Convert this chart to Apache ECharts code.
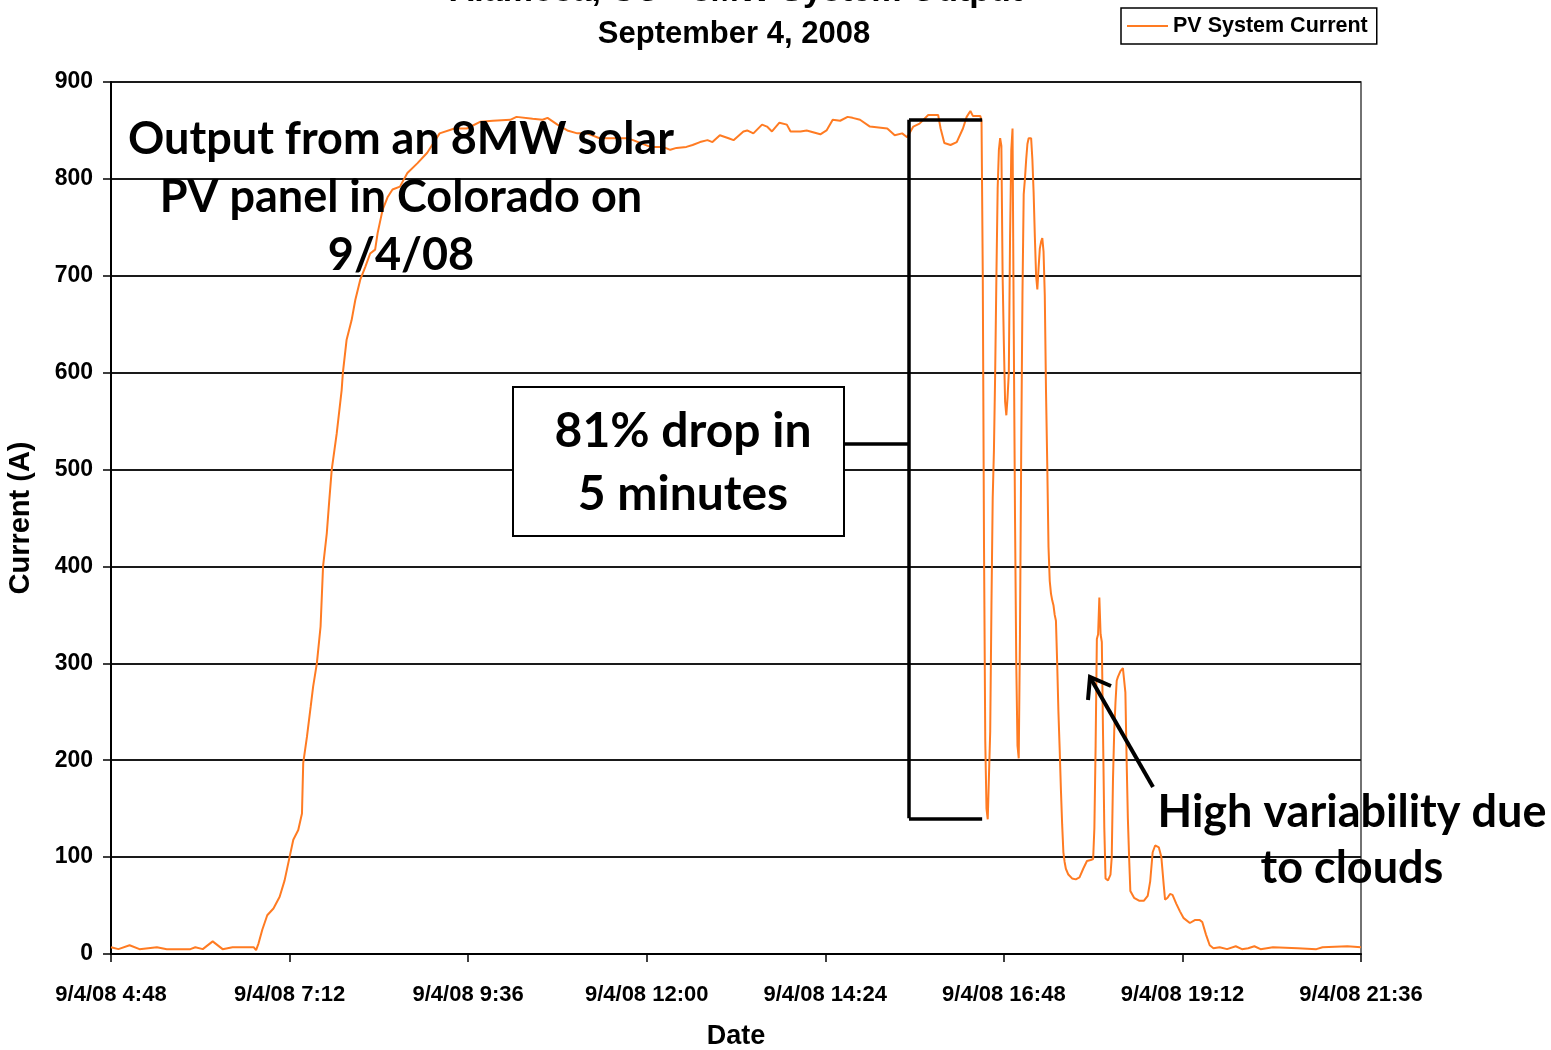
<!DOCTYPE html>
<html>
<head>
<meta charset="utf-8">
<title>Alamosa, CO - 8MW System Output</title>
<script src="https://cdn.jsdelivr.net/npm/echarts@6/dist/echarts.min.js"></script>
<style>
  html, body { margin: 0; padding: 0; background: #fff; }
  #chart { width: 1551px; height: 1050px; }
</style>
</head>
<body>
<div id="chart"></div>
<script>
// readings, time of day on 9/4/08 and current in A
const times = [
  "4:48", "4:54", "5:03", "5:11", "5:25", "5:33", "5:52", "5:56", "6:02", "6:10",
  "6:18", "6:26", "6:43", "6:45", "6:47", "6:50", "6:54", "6:59", "7:04", "7:08",
  "7:12", "7:15", "7:19", "7:22", "7:23", "7:26", "7:29", "7:31", "7:34", "7:37",
  "7:39", "7:42", "7:44", "7:46", "7:50", "7:54", "7:55", "7:58", "8:02", "8:05",
  "8:09", "8:13", "8:17", "8:21", "8:23", "8:27", "8:31", "8:35", "8:41", "8:47",
  "8:55", "9:03", "9:08", "9:13", "9:25", "9:35", "9:46", "9:56", "10:10", "10:15",
  "10:28", "10:36", "10:40", "10:48", "10:56", "11:04", "11:12", "11:22", "11:44", "11:49",
  "12:03", "12:13", "12:19", "12:24", "12:32", "12:37", "12:43", "12:49", "12:53", "12:59",
  "13:06", "13:10", "13:18", "13:21", "13:26", "13:33", "13:37", "13:41", "13:47", "13:53",
  "13:56", "14:04", "14:09", "14:20", "14:25", "14:30", "14:36", "14:42", "14:46", "14:52",
  "15:00", "15:14", "15:20", "15:26", "15:30", "15:35", "15:40", "15:47", "15:55", "15:57",
  "16:00", "16:05", "16:10", "16:15", "16:18", "16:21", "16:23", "16:29", "16:30", "16:31",
  "16:32", "16:33", "16:34", "16:35", "16:36", "16:37", "16:38", "16:39", "16:40", "16:41",
  "16:42", "16:43", "16:44", "16:45", "16:46", "16:47", "16:48", "16:49", "16:50", "16:51",
  "16:52", "16:53", "16:54", "16:55", "16:56", "16:57", "16:58", "16:59", "17:00", "17:01",
  "17:02", "17:03", "17:04", "17:05", "17:06", "17:07", "17:08", "17:09", "17:10", "17:11",
  "17:12", "17:13", "17:14", "17:15", "17:16", "17:17", "17:18", "17:19", "17:20", "17:21",
  "17:22", "17:23", "17:24", "17:25", "17:26", "17:27", "17:28", "17:29", "17:30", "17:31",
  "17:32", "17:33", "17:34", "17:35", "17:36", "17:37", "17:38", "17:40", "17:43", "17:46",
  "17:49", "17:52", "17:55", "17:58", "17:59", "18:00", "18:01", "18:02", "18:03", "18:04",
  "18:05", "18:06", "18:07", "18:08", "18:09", "18:10", "18:11", "18:12", "18:13", "18:14",
  "18:15", "18:16", "18:17", "18:18", "18:19", "18:20", "18:22", "18:24", "18:25", "18:26",
  "18:27", "18:28", "18:29", "18:30", "18:33", "18:37", "18:41", "18:44", "18:46", "18:48",
  "18:50", "18:53", "18:55", "18:57", "18:58", "19:00", "19:02", "19:04", "19:07", "19:10",
  "19:13", "19:18", "19:22", "19:26", "19:28", "19:31", "19:34", "19:37", "19:42", "19:48",
  "19:55", "20:00", "20:05", "20:10", "20:15", "20:25", "20:45", "21:00", "21:05", "21:25",
  "21:36"
];
const current = [
  7, 5, 9, 5, 7, 5, 5, 7, 5, 13,
  5, 7, 7, 4, 11, 25, 40, 47, 59, 76,
  100, 118, 128, 145, 197, 224, 255, 276, 300, 338,
  400, 434, 468, 500, 537, 582, 600, 634, 654, 675,
  696, 709, 723, 727, 744, 768, 781, 789, 792, 806,
  816, 827, 837, 847, 852, 852, 859, 860, 861, 864,
  862, 861, 863, 856, 850, 847, 847, 842, 842, 840,
  833, 833, 830, 832, 833, 835, 838, 840, 838, 845,
  842, 840, 849, 850, 847, 856, 854, 849, 858, 856,
  849, 849, 850, 846, 850, 861, 860, 864, 863, 861,
  854, 852, 845, 847, 843, 854, 857, 866, 866, 852,
  837, 835, 838, 852, 864, 870, 865, 865, 860, 700,
  420, 220, 150, 139, 139, 230, 360, 470, 520, 600,
  700, 790, 830, 842, 834, 700, 630, 570, 556, 575,
  600, 740, 830, 852, 640, 450, 300, 215, 202, 330,
  520, 680, 784, 800, 820, 836, 842, 844, 842, 820,
  786, 740, 700, 686, 708, 728, 735, 739, 725, 680,
  580, 505, 420, 385, 372, 365, 360, 350, 344, 300,
  250, 212, 170, 134, 105, 95, 88, 82, 78, 77,
  79, 88, 96, 97, 97, 98, 130, 215, 325, 330,
  368, 330, 322, 225, 130, 78, 76, 76, 77, 82,
  100, 180, 230, 259, 282, 286, 292, 295, 293, 270,
  200, 140, 100, 65, 58, 55, 55, 60, 75, 105,
  112, 110, 100, 70, 56, 58, 62, 61, 52, 44,
  37, 32, 35, 35, 33, 20, 9, 6, 7, 5,
  8, 5, 6, 8, 5, 7, 6, 5, 7, 8,
  7
];

// x axis in minutes after midnight: 4:48 .. 21:36, a tick every 2:24
const xMin = 288;
const xMax = 1296;
const xStep = 144;

// the 81% drop bracket (minutes, amps)
const dropStart = 931.5;
const dropEnd = 990.5;
const dropHigh = 861;
const dropLow = 140;
const dropMid = 527;
const boxEdge = 879;

const toMinutes = (s) => {
  const [h, m] = s.split(":").map(Number);
  return h * 60 + m;
};
const fmtTime = (v) => "9/4/08 " + Math.floor(v / 60) + ":" + String(Math.round(v % 60)).padStart(2, "0");

const seriesData = times.map((t, i) => [toMinutes(t), current[i]]);

const chartFont = "'Liberation Sans', Arial, sans-serif";
const noteFont = "Lato, 'Open Sans', sans-serif";

const chart = echarts.init(document.getElementById("chart"));

const bracketStyle = { color: "#000", width: 3.5, type: "solid" };

const option = {
  animation: false,
  backgroundColor: "#fff",
  grid: {
    left: 111,
    right: 190,
    top: 82,
    bottom: 96,
    outerBoundsMode: "none",
    show: true,
    borderColor: "#444",
    borderWidth: 1.5,
  },
  legend: {
    left: 1121,
    top: 8,
    padding: [7, 9, 7, 6],
    backgroundColor: "#fff",
    borderColor: "#000",
    borderWidth: 1.5,
    borderRadius: 0,
    itemWidth: 41,
    itemHeight: 2,
    data: [{ name: "PV System Current", icon: "rect" }],
    textStyle: { fontFamily: chartFont, fontSize: 21.5, fontWeight: "bold", color: "#000" },
  },
  xAxis: {
    type: "value",
    min: xMin,
    max: xMax,
    interval: xStep,
    name: "Date",
    nameLocation: "middle",
    nameGap: 69,
    nameTextStyle: { fontFamily: chartFont, fontSize: 27, fontWeight: "bold", color: "#000" },
    axisLine: { show: true, onZero: false, lineStyle: { color: "#000", width: 2 } },
    axisTick: { show: true, inside: false, length: 8, lineStyle: { color: "#000", width: 1.5 } },
    axisLabel: {
      margin: 30,
      formatter: fmtTime,
      fontFamily: chartFont,
      fontSize: 22,
      fontWeight: "bold",
      color: "#000",
      showMinLabel: true,
      showMaxLabel: true,
    },
    splitLine: { show: false },
  },
  yAxis: {
    type: "value",
    min: 0,
    max: 900,
    interval: 100,
    name: "Current (A)",
    nameLocation: "middle",
    nameRotate: 90,
    nameGap: 76,
    nameTextStyle: { fontFamily: chartFont, fontSize: 29, fontWeight: "bold", color: "#000" },
    axisLine: { show: true, lineStyle: { color: "#000", width: 2 } },
    axisTick: { show: true, inside: false, length: 8, lineStyle: { color: "#000", width: 1.5 } },
    axisLabel: {
      margin: 18,
      fontFamily: chartFont,
      fontSize: 23,
      fontWeight: "bold",
      color: "#000",
    },
    splitLine: { show: true, lineStyle: { color: "#1a1a1a", width: 2 } },
  },
  series: [
    {
      name: "PV System Current",
      type: "line",
      data: seriesData,
      showSymbol: false,
      symbol: "none",
      color: "#ff7b22",
      lineStyle: { color: "#ff7b22", width: 2 },
      markLine: {
        silent: true,
        symbol: "none",
        label: { show: false },
        lineStyle: bracketStyle,
        data: [
          [{ coord: [dropStart, dropHigh] }, { coord: [dropEnd, dropHigh] }],
          [{ coord: [dropStart, dropHigh] }, { coord: [dropStart, dropLow] }],
          [{ coord: [dropStart, dropLow] }, { coord: [dropEnd, dropLow] }],
          [{ coord: [boxEdge, dropMid] }, { coord: [dropStart, dropMid] }],
        ],
      },
    },
  ],
  graphic: [
    {
      type: "text",
      x: 736,
      y: -8,
      z: 100,
      style: {
        text: "Alamosa, CO - 8MW System Output",
        font: "bold 34px " + chartFont,
        fill: "#000",
        textAlign: "center",
        align: "center",
        textVerticalAlign: "middle",
        verticalAlign: "middle",
      },
    },
    {
      type: "text",
      x: 734,
      y: 34,
      z: 100,
      style: {
        text: "September 4, 2008",
        font: "bold 31px " + chartFont,
        fill: "#000",
        textAlign: "center",
        align: "center",
        textVerticalAlign: "middle",
        verticalAlign: "middle",
      },
    },
    {
      type: "text",
      x: 401,
      y: 197,
      z: 100,
      style: {
        text: "Output from an 8MW solar\nPV panel in Colorado on\n9/4/08",
        font: "bold 45px " + noteFont,
        lineHeight: 58,
        fill: "#000",
        textAlign: "center",
        align: "center",
        textVerticalAlign: "middle",
        verticalAlign: "middle",
      },
    },
    {
      type: "rect",
      z: 100,
      shape: { x: 513, y: 387, width: 331, height: 149 },
      style: { fill: "#fff", stroke: "#000", lineWidth: 2 },
    },
    {
      type: "text",
      x: 683,
      y: 463,
      z: 101,
      style: {
        text: "81% drop in\n5 minutes",
        font: "bold 48px " + noteFont,
        lineHeight: 63,
        fill: "#000",
        textAlign: "center",
        align: "center",
        textVerticalAlign: "middle",
        verticalAlign: "middle",
      },
    },
    {
      type: "line",
      z: 100,
      shape: { x1: 1153, y1: 787, x2: 1091, y2: 679 },
      style: { stroke: "#000", lineWidth: 4 },
    },
    {
      type: "polyline",
      z: 100,
      shape: { points: [[1088, 700], [1090, 677], [1111, 686]] },
      style: { stroke: "#000", lineWidth: 4, fill: null },
    },
    {
      type: "text",
      x: 1352,
      y: 840,
      z: 100,
      style: {
        text: "High variability due\nto clouds",
        font: "bold 45px " + noteFont,
        lineHeight: 56,
        fill: "#000",
        textAlign: "center",
        align: "center",
        textVerticalAlign: "middle",
        verticalAlign: "middle",
      },
    },
  ],
};

chart.setOption(option);
</script>
</body>
</html>
